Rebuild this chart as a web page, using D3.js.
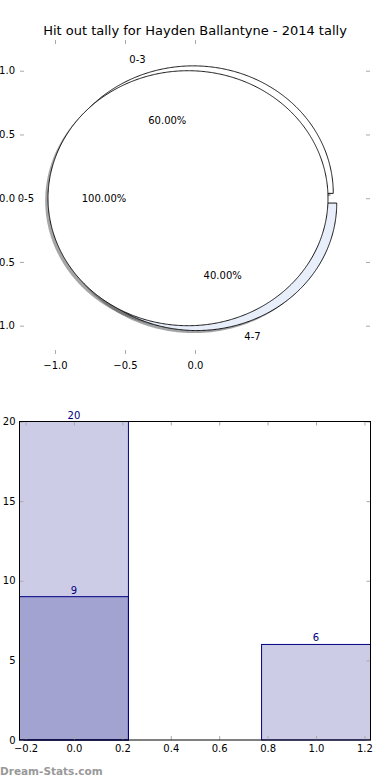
<!DOCTYPE html>
<html><head><meta charset="utf-8">
<script src="https://cdn.jsdelivr.net/npm/d3@7"></script>
<style>body{margin:0;background:#fff}svg{display:block;font-family:"DejaVu Sans",sans-serif}</style>
</head><body><svg id="c" width="390" height="780"></svg>
<script>
const title = "Hit out tally for Hayden Ballantyne - 2014 tally";
const outerLabels = ["0-3", "4-7"];
const outerValues = [60, 40];
const outerColors = ["#ffffff", "#e8eefa"];
const outerExplode = [0.04, 0.04];
const innerLabels = ["0-5"];
const innerValues = [100];
const innerColors = ["#ffffff"];
const innerExplode = [0.05];
const pieXTicks = [-1.0, -0.5, 0.0];
const pieYTicks = [-1.0, -0.5, 0.0, 0.5, 1.0];
const barCategories = [0, 1];
const barTotals = [20, 6];
const barInner = [9, 0];
const barXTicks = [-0.2, 0.0, 0.2, 0.4, 0.6, 0.8, 1.0, 1.2];
const barYTicks = [0, 5, 10, 15, 20];
const watermark = "Dream-Stats.com";

const svg = d3.select("#c");
const fs = 10;

// title
svg.append("text").attr("x", 195).attr("y", 34.5).attr("text-anchor", "middle")
  .attr("font-size", 13).attr("fill", "#000").text(title);

// ---------- PIE ----------
const px = d3.scaleLinear().domain([-1.25, 1.25]).range([20, 370]);
const py = d3.scaleLinear().domain([-1.222, 1.241]).range([354, 40]);
const gP = svg.append("g");
const line = d3.line().x(d => px(d[0])).y(d => py(d[1]));

function wedge(cx, cy, r, a0, a1) {
  const full = Math.abs(a1 - a0) >= 2 * Math.PI - 1e-9;
  const pts = full ? [] : [[cx, cy]];
  const n = Math.max(4, Math.ceil(Math.abs(a1 - a0) * 180 / Math.PI * 2));
  for (let i = 0; i <= n; i++) {
    const a = a0 + (a1 - a0) * i / n;
    pts.push([cx + r * Math.cos(a), cy + r * Math.sin(a)]);
  }
  return line(pts) + "Z";
}
function layout(values, labels, colors, explode, radius) {
  const arcs = d3.pie().sort(null).startAngle(0).endAngle(2 * Math.PI)(values);
  return arcs.map((a, i) => {
    const mid = (a.startAngle + a.endAngle) / 2;
    const cx = explode[i] * Math.cos(mid), cy = explode[i] * Math.sin(mid);
    return { a0: a.startAngle, a1: a.endAngle, mid, cx, cy, r: radius, label: labels[i],
      color: colors[i], frac: a.value / d3.sum(values) };
  });
}
const outer = layout(outerValues, outerLabels, outerColors, outerExplode, 1);
const inner = layout(innerValues, innerLabels, innerColors, innerExplode, 1);

function shadowColor(c) {
  const k = d3.rgb(c);
  return d3.rgb(k.r * 0.3, k.g * 0.3, k.b * 0.3).toString();
}
// shadows (below all wedges)
[...outer, ...inner].forEach(w => {
  gP.append("path").attr("d", wedge(w.cx - 0.02, w.cy - 0.02, w.r, w.a0, w.a1))
    .attr("fill", shadowColor(w.color)).attr("fill-opacity", 0.5).attr("stroke", "none");
});
[...outer, ...inner].forEach(w => {
  gP.append("path").attr("d", wedge(w.cx, w.cy, w.r, w.a0, w.a1))
    .attr("fill", w.color).attr("stroke", "#000").attr("stroke-width", 0.9)
    .attr("stroke-linejoin", "miter");
});
[...outer, ...inner].forEach(w => {
  const lx = w.cx + 1.1 * w.r * Math.cos(w.mid), ly = w.cy + 1.1 * w.r * Math.sin(w.mid);
  gP.append("text").attr("x", px(lx)).attr("y", py(ly)).attr("dy", "0.35em")
    .attr("text-anchor", lx > 0 ? "start" : "end").attr("font-size", fs).text(w.label);
  const tx = w.cx + 0.6 * w.r * Math.cos(w.mid), ty = w.cy + 0.6 * w.r * Math.sin(w.mid);
  gP.append("text").attr("x", px(tx)).attr("y", py(ty)).attr("dy", "0.35em")
    .attr("text-anchor", "middle").attr("font-size", fs).text(d3.format(".2f")(w.frac * 100) + "%");
});

// pie axes (no frame, ticks only)
function styleAxis(g) {
  g.select(".domain").remove();
  g.selectAll(".tick line").attr("stroke", "#aaa").attr("stroke-width", 1);
  g.selectAll(".tick text").attr("font-size", fs).attr("fill", "#000").attr("font-family", "DejaVu Sans");
}
const f1 = d3.format(".1f");
svg.append("g").attr("transform", "translate(0,354)")
  .call(d3.axisBottom(px).tickValues(pieXTicks).tickSize(-4).tickPadding(7.5).tickFormat(f1)).call(styleAxis);
svg.append("g").attr("transform", "translate(0,40)")
  .call(d3.axisTop(px).tickValues(pieXTicks).tickSize(-4).tickFormat("")).call(styleAxis);
svg.append("g").attr("transform", "translate(20,0)")
  .call(d3.axisLeft(py).tickValues(pieYTicks).tickSize(-4).tickPadding(5).tickFormat(f1)).call(styleAxis);
svg.append("g").attr("transform", "translate(370,0)")
  .call(d3.axisRight(py).tickValues(pieYTicks).tickSize(-4).tickFormat("")).call(styleAxis);

// ---------- BARS ----------
const bw = 0.45;
const bx = d3.scaleLinear().domain([-0.225, 1.225]).range([19.5, 370.5]);
const by = d3.scaleLinear().domain([0, 20]).range([740, 421.5]);
const gB = svg.append("g");
function bars(vals) {
  barCategories.forEach((c, i) => {
    if (!vals[i]) return;
    gB.append("rect").attr("x", bx(c - bw / 2)).attr("y", by(vals[i]))
      .attr("width", bx(c + bw / 2) - bx(c - bw / 2)).attr("height", by(0) - by(vals[i]))
      .attr("fill", "navy").attr("fill-opacity", 0.2).attr("stroke", "navy").attr("stroke-width", 1);
    gB.append("text").attr("x", bx(c)).attr("y", by(vals[i]) - 3).attr("text-anchor", "middle")
      .attr("font-size", fs).attr("fill", "navy").text(vals[i]);
  });
}
bars(barTotals);
bars(barInner);

svg.append("g").attr("transform", "translate(0,740)")
  .call(d3.axisBottom(bx).tickValues(barXTicks).tickSize(-4).tickPadding(4.5).tickFormat(f1)).call(styleAxis);
svg.append("g").attr("transform", "translate(0,421.5)")
  .call(d3.axisTop(bx).tickValues(barXTicks).tickSize(-4).tickFormat("")).call(styleAxis);
svg.append("g").attr("transform", "translate(19.5,0)")
  .call(d3.axisLeft(by).tickValues(barYTicks).tickSize(-4).tickPadding(4).tickFormat(d3.format("d"))).call(styleAxis);
svg.append("g").attr("transform", "translate(370.5,0)")
  .call(d3.axisRight(by).tickValues(barYTicks).tickSize(-4).tickFormat("")).call(styleAxis);
svg.append("rect").attr("x", 19.5).attr("y", 421.5).attr("width", 351).attr("height", 318.5)
  .attr("fill", "none").attr("stroke", "#000").attr("stroke-width", 1);

svg.append("text").attr("x", 0).attr("y", 775).attr("font-size", 10.5).attr("fill", "#999")
  .attr("font-weight", "bold").attr("font-family", "DejaVu Sans").text(watermark);
</script></body></html>
